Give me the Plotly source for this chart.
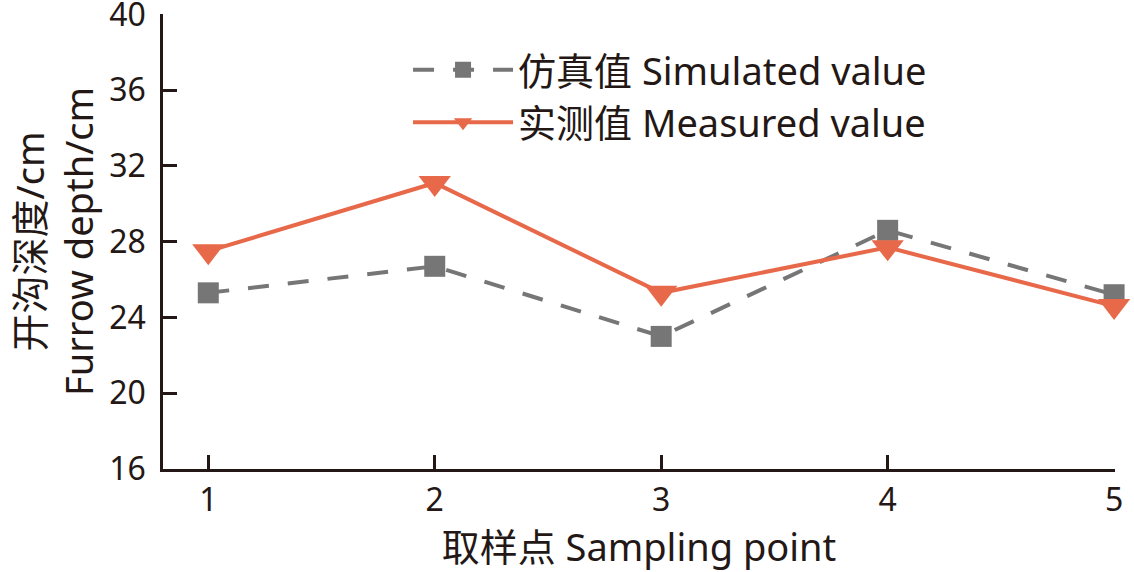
import plotly.graph_objects as go

points = [1, 2, 3, 4, 5]
simulated = [25.3, 26.7, 23.0, 28.6, 25.2]
measured = [27.5, 31.1, 25.3, 27.7, 24.6]
y_ticks = [16, 20, 24, 28, 32, 36, 40]

ink = '#231815'
font_stack = 'Noto Sans, Noto Sans CJK SC, sans-serif'

fig = go.Figure()

fig.add_trace(go.Scatter(
    x=points, y=simulated, name='仿真值 Simulated value',
    mode='lines+markers', cliponaxis=False,
    line=dict(color='#767676', width=4, dash='21px,19px'),
    marker=dict(symbol='square', size=21, color='#767676')))

fig.add_trace(go.Scatter(
    x=points, y=measured, name='实测值 Measured value',
    mode='lines+markers', cliponaxis=False,
    line=dict(color='#E8694A', width=4),
    marker=dict(symbol='triangle-down', size=28, color='#E8694A')))

fig.update_layout(
    width=1134, height=572,
    paper_bgcolor='white', plot_bgcolor='white',
    margin=dict(l=163, r=19, t=14, b=103, autoexpand=False),
    font=dict(family=font_stack, size=32, color=ink),
    legend=dict(x=0.2574, y=0.946, xanchor='left', yanchor='top',
                bgcolor='rgba(0,0,0,0)', font=dict(size=38),
                itemwidth=100, tracegroupgap=0),
    showlegend=True)

# tiny padding on the range ends keeps the end ticks (40 and 5) drawn
fig.update_xaxes(
    range=[0.8, 5.004], tickvals=points, ticks='inside', ticklen=14,
    tickwidth=2.5, tickcolor=ink, showline=True, linewidth=2.5,
    linecolor=ink, showgrid=False, zeroline=False, automargin=False,
    ticklabelstandoff=1, ticklabeloverflow='allow',
    title=dict(text='取样点 Sampling point', standoff=7))

fig.update_yaxes(
    range=[16, 40.02], tickvals=y_ticks, ticks='inside', ticklen=14,
    tickwidth=2.5, tickcolor=ink, showline=True, linewidth=2.5,
    linecolor=ink, showgrid=False, zeroline=False, automargin=False,
    ticklabelstandoff=8, ticklabeloverflow='allow',
    title=dict(text='开沟深度/cm<br>Furrow depth/cm', standoff=4))

fig.write_html('out.html', config={'displayModeBar': False},
               post_script="document.body.style.margin='0';")
